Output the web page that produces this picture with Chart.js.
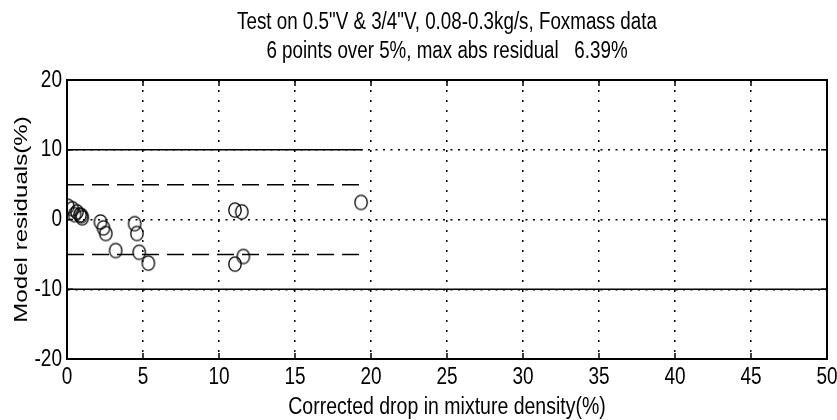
<!DOCTYPE html>
<html><head><meta charset="utf-8">
<script src="https://cdn.jsdelivr.net/npm/chart.js@4.4.0/dist/chart.umd.min.js"></script>
<style>html,body{margin:0;padding:0;background:#fff}canvas{display:block}</style>
</head><body>
<canvas id="c" width="837" height="420"></canvas>
<script>
const titleLines = ['Test on 0.5"V & 3/4"V, 0.08-0.3kg/s, Foxmass data', '6 points over 5%, max abs residual   6.39%'];
const xLabel = 'Corrected drop in mixture density(%)';
const yLabel = 'Model residuals(%)';
const xTicks = [0, 5, 10, 15, 20, 25, 30, 35, 40, 45, 50];
const yTicks = [-20, -10, 0, 10, 20];
const dropX = [0.05, 0.35, 0.65, 0.85, 0.5, 1.0, 0.95, 2.2, 2.4, 2.55, 3.2, 4.45, 4.6, 4.75, 5.35, 11.05, 11.5, 11.05, 11.6, 19.35];
const residY = [1.9, 1.55, 1.1, 0.65, 0.7, 0.25, 0.55, -0.35, -1.2, -2.0, -4.45, -0.6, -2.0, -4.7, -6.25, 1.35, 1.1, -6.39, -5.3, 2.45];
const dashedLevels = [5, -5];
const dashedSpan = [0, 19.45];
const solidUpper = {level: 10, span: [0, 19.45]};
const solidLower = {level: -10, span: [0, 50]};

const FONT = '"Liberation Sans", Arial, sans-serif';
const TEXT_STRETCH = 1.27; // the scanned figure's lettering is taller than it is wide

const canvas = document.getElementById('c');
const ctx = canvas.getContext('2d');
const protoFill = CanvasRenderingContext2D.prototype.fillText;
ctx.fillText = function (text, x, y, maxWidth) {
  const m = this.getTransform();
  const p = m.transformPoint(new DOMPoint(x, y));
  this.save();
  const s = new DOMMatrix([1, 0, 0, TEXT_STRETCH, 0, p.y * (1 - TEXT_STRETCH)]);
  this.setTransform(s.multiply(m));
  if (maxWidth === undefined) protoFill.call(this, text, x, y);
  else protoFill.call(this, text, x, y, maxWidth);
  this.restore();
};

function ovalMarker(rx, ry, lw) {
  const c = document.createElement('canvas');
  c.width = 18; c.height = 20;
  const g = c.getContext('2d');
  g.strokeStyle = '#000'; g.lineWidth = lw;
  g.beginPath(); g.ellipse(c.width / 2, c.height / 2, rx, ry, 0, 0, Math.PI * 2); g.stroke();
  return c;
}
const marker = ovalMarker(6.2, 7.2, 1.3);

const pts = dropX.map((x, i) => ({x, y: residY[i]}));
const hline = (lvl, span) => span.map(x => ({x, y: lvl}));

const datasets = [
  {data: pts, showLine: false, pointStyle: marker, pointRadius: 7, pointHoverRadius: 7, order: 0},
  ...dashedLevels.map(l => ({data: hline(l, dashedSpan), showLine: true, pointRadius: 0,
    borderColor: '#000', borderWidth: 1.5, borderDash: [17, 8], order: 1})),
  {data: hline(solidUpper.level, solidUpper.span), showLine: true, pointRadius: 0, borderColor: '#000', borderWidth: 1.5, order: 1},
  {data: hline(solidLower.level, solidLower.span), showLine: true, pointRadius: 0, borderColor: '#000', borderWidth: 1.5, order: 1}
];

const frame = {
  id: 'frame',
  afterDatasetsDraw(chart) {
    const a = chart.chartArea, c = chart.ctx;
    const sx = chart.scales.x, sy = chart.scales.y;
    c.save();
    c.strokeStyle = '#000'; c.lineWidth = 2;
    c.strokeRect(a.left, a.top, a.right - a.left, a.bottom - a.top);
    c.lineWidth = 1.5;
    c.beginPath();
    xTicks.forEach(v => {
      const px = sx.getPixelForValue(v);
      c.moveTo(px, a.bottom); c.lineTo(px, a.bottom - 6);
      c.moveTo(px, a.top); c.lineTo(px, a.top + 6);
    });
    yTicks.forEach(v => {
      const py = sy.getPixelForValue(v);
      c.moveTo(a.left, py); c.lineTo(a.left + 6, py);
      c.moveTo(a.right, py); c.lineTo(a.right - 6, py);
    });
    c.stroke();
    c.restore();
  }
};

const headTitle = {
  id: 'headTitle',
  afterDraw(chart) {
    const a = chart.chartArea, c = chart.ctx;
    const cx = (a.left + a.right) / 2;
    c.save();
    c.fillStyle = '#000';
    c.font = '18.8px ' + FONT;
    c.textAlign = 'center';
    c.textBaseline = 'middle';
    const ys = [22, 51];
    titleLines.forEach((t, i) => c.fillText(t, cx, ys[i]));
    c.restore();
  }
};

new Chart(canvas, {
  type: 'scatter',
  data: {datasets},
  plugins: [frame, headTitle],
  options: {
    responsive: false, animation: false, devicePixelRatio: 1,
    layout: {padding: {left: 0, right: 10, top: 80, bottom: 0}},
    plugins: {
      legend: {display: false}, tooltip: {enabled: false}, title: {display: false}
    },
    scales: {
      x: {type: 'linear', min: 0, max: 50,
        afterBuildTicks: s => { s.ticks = xTicks.map(v => ({value: v})); },
        afterFit: s => { s.height = 61; s.paddingRight = 0; s.paddingLeft = 0; },
        grid: {color: '#000', lineWidth: 1.5, drawTicks: false},
        border: {display: true, color: '#000', width: 2, dash: [2, 8]},
        ticks: {color: '#000', padding: 7, font: {family: FONT, size: 19}},
        title: {display: true, text: xLabel, color: '#000', font: {family: FONT, size: 19.5}, padding: {top: 0, bottom: 1.3}}
      },
      y: {type: 'linear', min: -20, max: 20,
        afterBuildTicks: s => { s.ticks = yTicks.map(v => ({value: v})); },
        afterFit: s => { s.width = 67; },
        grid: {color: '#000', lineWidth: 1.5, drawTicks: false},
        border: {display: true, color: '#000', width: 2, dash: [2, 5.5]},
        ticks: {color: '#000', padding: 5, font: {family: FONT, size: 19}},
        title: {display: true, text: yLabel, color: '#000', font: {family: FONT, size: 19}, padding: {top: 10.6, bottom: 0}}
      }
    }
  }
});
</script>
</body></html>
